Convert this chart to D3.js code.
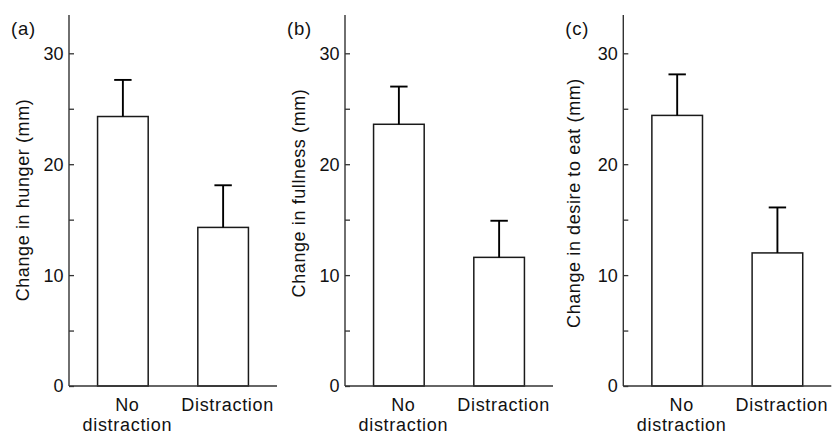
<!DOCTYPE html>
<html>
<head>
<meta charset="utf-8">
<script src="https://cdn.jsdelivr.net/npm/d3@7"></script>
<style>
  html, body { margin: 0; padding: 0; background: #fff; }
  svg text { font-family: "Liberation Sans", Arial, Helvetica, sans-serif; fill: #111; }
</style>
</head>
<body>
<svg id="chart" width="832" height="434"></svg>
<script>
// ---- data ----
const categories = ["No distraction", "Distraction"];
const panelTags = ["(a)", "(b)", "(c)"];
const yTitles = ["Change in hunger (mm)", "Change in fullness (mm)", "Change in desire to eat (mm)"];
const hungerMeans = [24.3, 14.3];
const hungerSE = [3.3, 3.8];
const fullnessMeans = [23.6, 11.6];
const fullnessSE = [3.4, 3.3];
const desireMeans = [24.4, 12.0];
const desireSE = [3.7, 4.1];
const majorTicks = [0, 10, 20, 30];
const minorTicks = [5, 15, 25];

const panels = [
  { tag: panelTags[0], title: yTitles[0], means: hungerMeans, se: hungerSE },
  { tag: panelTags[1], title: yTitles[1], means: fullnessMeans, se: fullnessSE },
  { tag: panelTags[2], title: yTitles[2], means: desireMeans, se: desireSE }
];

// ---- layout ----
const axisXs = [69, 345, 623.3];
const titleOffsets = [-40, -40, -43];
const titleCenters = [200, 193, 203];
const plotWidth = 208;
const y0px = 386, yTopPx = 15;

const svg = d3.select("#chart");
const y = d3.scaleLinear().domain([0, 30]).range([y0px, 53.3]);
const yMaxAxis = y.invert(yTopPx);

panels.forEach((p, i) => {
  const ax = axisXs[i];
  const g = svg.append("g");
  const x = d3.scaleBand()
    .domain(categories)
    .range([ax, ax + plotWidth])
    .paddingInner(0.495)
    .paddingOuter(0.285);

  // bars
  g.selectAll("rect.bar").data(p.means).enter().append("rect")
    .attr("class", "bar")
    .attr("x", (d, j) => x(categories[j]))
    .attr("y", d => y(d))
    .attr("width", x.bandwidth())
    .attr("height", d => y(0) - y(d))
    .attr("fill", "#fff")
    .attr("stroke", "#1a1a1a")
    .attr("stroke-width", 1.5);

  // error bars
  const cap = 8.7;
  p.means.forEach((m, j) => {
    const cx = x(categories[j]) + x.bandwidth() / 2;
    g.append("line")
      .attr("x1", cx).attr("x2", cx)
      .attr("y1", y(m)).attr("y2", y(m + p.se[j]))
      .attr("stroke", "#000").attr("stroke-width", 1.9);
    g.append("line")
      .attr("x1", cx - cap).attr("x2", cx + cap)
      .attr("y1", y(m + p.se[j])).attr("y2", y(m + p.se[j]))
      .attr("stroke", "#000").attr("stroke-width", 1.9);
  });

  // y axis
  const yAxisScale = y.copy().domain([0, yMaxAxis]).range([y0px, yTopPx]);
  const yAxis = d3.axisRight(yAxisScale).tickValues(majorTicks).tickSize(5).tickFormat("");
  const ya = g.append("g").attr("transform", `translate(${ax},0)`).call(yAxis);
  ya.select(".domain").attr("stroke", "#333").attr("stroke-width", 1.4).attr("d", `M0,${yTopPx}V${y0px}`);
  ya.selectAll(".tick line").attr("stroke", "#333").attr("stroke-width", 1.3);
  const yMinor = d3.axisRight(yAxisScale).tickValues(minorTicks).tickSize(5).tickFormat("");
  const ym = g.append("g").attr("transform", `translate(${ax},0)`).call(yMinor);
  ym.select(".domain").remove();
  ym.selectAll(".tick line").attr("stroke", "#333").attr("stroke-width", 1.3);

  // tick labels
  g.selectAll("text.ytl").data(majorTicks).enter().append("text")
    .attr("class", "ytl")
    .attr("x", ax - 5.5)
    .attr("y", d => y(d))
    .attr("dy", "0.36em")
    .attr("text-anchor", "end")
    .style("font-size", "18px")
    .text(d => d);

  // x baseline
  g.append("line")
    .attr("x1", ax).attr("x2", ax + plotWidth)
    .attr("y1", y(0)).attr("y2", y(0))
    .attr("stroke", "#333").attr("stroke-width", 1.4);

  // category labels
  categories.forEach((c, j) => {
    const cx = x(c) + x.bandwidth() / 2 + 4.5;
    const words = c === "No distraction" ? ["No", "distraction"] : [c];
    words.forEach((w, k) => {
      g.append("text")
        .attr("x", cx)
        .attr("y", 411 + k * 20)
        .attr("text-anchor", "middle")
        .style("font-size", "18px")
        .style("letter-spacing", "0.7px")
        .text(w);
    });
  });

  // y title
  g.append("text")
    .attr("transform", `translate(${ax + titleOffsets[i]},${titleCenters[i]}) rotate(-90)`)
    .attr("text-anchor", "middle")
    .style("font-size", "18px")
    .style("letter-spacing", "0.6px")
    .text(p.title);

  // panel tag
  g.append("text")
    .attr("x", ax - 58)
    .attr("y", 34.5)
    .style("font-size", "18.5px")
    .style("letter-spacing", "0.8px")
    .text(p.tag);
});
</script>
</body>
</html>
